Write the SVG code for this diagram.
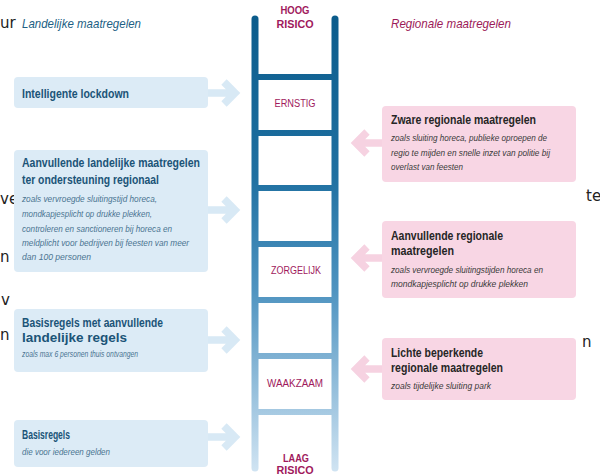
<svg xmlns="http://www.w3.org/2000/svg" width="600" height="475" viewBox="0 0 600 475">
<defs>
<linearGradient id="lad" gradientUnits="userSpaceOnUse" x1="0" y1="18" x2="0" y2="470">
<stop offset="0" stop-color="#0b5c8c"/>
<stop offset="0.35" stop-color="#1f70a1"/>
<stop offset="0.6" stop-color="#4e93c0"/>
<stop offset="1" stop-color="#cfe3f2"/>
</linearGradient>
<style>
.bl{fill:#dcebf6}
.pk{fill:#f8d6e4}
.ab{fill:none;stroke:#d8e9f5;stroke-width:7.5;stroke-linejoin:miter}
.ap{fill:none;stroke:#f6d2e1;stroke-width:7.5;stroke-linejoin:miter}
.hd{font-family:"Liberation Sans",Arial,sans-serif;font-style:italic;font-size:13px}
.tb{font-family:"Liberation Sans",Arial,sans-serif;font-weight:bold;font-size:12.5px;fill:#1b5478}
.tp{font-family:"Liberation Sans",Arial,sans-serif;font-weight:bold;font-size:12.5px;fill:#262626}
.sb{font-family:"Liberation Sans",Arial,sans-serif;font-style:italic;font-size:9px;fill:#4a7491}
.sp{font-family:"Liberation Sans",Arial,sans-serif;font-style:italic;font-size:9px;fill:#3a3a3a}
.lv{font-family:"Liberation Sans",Arial,sans-serif;font-size:10px;fill:#a0195c;text-anchor:middle}
.lvb{font-family:"Liberation Sans",Arial,sans-serif;font-size:10px;font-weight:bold;fill:#a0195c;text-anchor:middle}
.st{font-family:"DejaVu Sans",sans-serif;font-size:15px;fill:#222}
.rail{stroke:url(#lad);stroke-width:7;stroke-linecap:round;fill:none}
.rung{fill:url(#lad)}
</style>
</defs>
<rect width="600" height="475" fill="#ffffff"/>

<g id="stray">
<text class="st" x="0" y="28">ur</text>
<text class="st" x="0" y="204">ve</text>
<text class="st" x="0" y="262">n</text>
<text class="st" x="1" y="305">v</text>
<text class="st" x="0" y="340">n</text>
<text class="st" x="586" y="201">te</text>
<text class="st" x="582" y="347">n</text>
</g>

<g id="headers">
<text class="hd" x="22" y="28" fill="#1d5f84" textLength="119" lengthAdjust="spacingAndGlyphs">Landelijke maatregelen</text>
<text class="hd" x="391" y="28" fill="#9c1a58" textLength="120" lengthAdjust="spacingAndGlyphs">Regionale maatregelen</text>
</g>

<g id="ladder">
<line class="rail" x1="255" y1="19" x2="255" y2="468"/>
<line class="rail" x1="335" y1="19" x2="335" y2="468"/>
<rect class="rung" x="255" y="74" width="80" height="6"/>
<rect class="rung" x="255" y="130" width="80" height="6"/>
<rect class="rung" x="255" y="185" width="80" height="6"/>
<rect class="rung" x="255" y="241" width="80" height="6"/>
<rect class="rung" x="255" y="297" width="80" height="6"/>
<rect class="rung" x="255" y="353" width="80" height="6"/>
<rect class="rung" x="255" y="409" width="80" height="6"/>
<text class="lvb" x="295" y="14" textLength="29" lengthAdjust="spacingAndGlyphs">HOOG</text>
<text class="lvb" x="295" y="28" textLength="37" lengthAdjust="spacingAndGlyphs">RISICO</text>
<text class="lv" x="295" y="107" textLength="41" lengthAdjust="spacingAndGlyphs">ERNSTIG</text>
<text class="lv" x="296" y="274" textLength="50" lengthAdjust="spacingAndGlyphs">ZORGELIJK</text>
<text class="lv" x="295" y="387" textLength="56" lengthAdjust="spacingAndGlyphs">WAAKZAAM</text>
<text class="lvb" x="296" y="462" textLength="26" lengthAdjust="spacingAndGlyphs">LAAG</text>
<text class="lvb" x="295" y="474" textLength="37" lengthAdjust="spacingAndGlyphs">RISICO</text>
</g>

<g id="connectors">
<path class="ab" d="M208 93H235M224 82L235 93L224 104"/>
<path class="ab" d="M208 210H235M224 199L235 210L224 221"/>
<path class="ab" d="M208 340H235M224 329L235 340L224 351"/>
<path class="ab" d="M208 437H235M224 426L235 437L224 448"/>
<path class="ap" d="M382 143H356M367 132L356 143L367 154"/>
<path class="ap" d="M382 258H356M367 247L356 258L367 269"/>
<path class="ap" d="M382 369H356M367 358L356 369L367 380"/>
</g>

<g id="l1">
<rect class="bl" x="14" y="77" width="194" height="31" rx="4"/>
<text class="tb" x="22" y="98" textLength="107" lengthAdjust="spacingAndGlyphs">Intelligente lockdown</text>
</g>

<g id="l2">
<rect class="bl" x="14" y="150" width="194" height="122" rx="4"/>
<text class="tb" x="22" y="167" textLength="178" lengthAdjust="spacingAndGlyphs">Aanvullende landelijke maatregelen</text>
<text class="tb" x="22" y="184" textLength="137" lengthAdjust="spacingAndGlyphs">ter ondersteuning regionaal</text>
<text class="sb" x="22" y="202" textLength="135" lengthAdjust="spacingAndGlyphs">zoals vervroegde sluitingstijd horeca,</text>
<text class="sb" x="22" y="217" textLength="130" lengthAdjust="spacingAndGlyphs">mondkapjesplicht op drukke plekken,</text>
<text class="sb" x="22" y="232" textLength="150" lengthAdjust="spacingAndGlyphs">controleren en sanctioneren bij horeca en</text>
<text class="sb" x="22" y="246" textLength="167" lengthAdjust="spacingAndGlyphs">meldplicht voor bedrijven bij feesten van meer</text>
<text class="sb" x="22" y="260" textLength="69" lengthAdjust="spacingAndGlyphs">dan 100 personen</text>
</g>

<g id="l3">
<rect class="bl" x="14" y="309" width="194" height="63" rx="4"/>
<text class="tb" x="22" y="327" textLength="141" lengthAdjust="spacingAndGlyphs">Basisregels met aanvullende</text>
<text class="tb" x="22" y="342" textLength="105" lengthAdjust="spacingAndGlyphs">landelijke regels</text>
<text class="sb" x="22" y="357" textLength="116" lengthAdjust="spacingAndGlyphs">zoals max 6 personen thuis ontvangen</text>
</g>

<g id="l4">
<rect class="bl" x="14" y="420" width="194" height="47" rx="4"/>
<text class="tb" x="22" y="439" textLength="48" lengthAdjust="spacingAndGlyphs">Basisregels</text>
<text class="sb" x="22" y="455" textLength="88" lengthAdjust="spacingAndGlyphs">die voor iedereen gelden</text>
</g>

<g id="r1">
<rect class="pk" x="382" y="106" width="194" height="76" rx="4"/>
<text class="tp" x="391" y="124" textLength="145" lengthAdjust="spacingAndGlyphs">Zware regionale maatregelen</text>
<text class="sp" x="391" y="141" textLength="156" lengthAdjust="spacingAndGlyphs">zoals sluiting horeca, publieke oproepen de</text>
<text class="sp" x="391" y="156" textLength="159" lengthAdjust="spacingAndGlyphs">regio te mijden en snelle inzet van politie bij</text>
<text class="sp" x="391" y="170" textLength="72" lengthAdjust="spacingAndGlyphs">overlast van feesten</text>
</g>

<g id="r2">
<rect class="pk" x="382" y="221" width="194" height="77" rx="4"/>
<text class="tp" x="391" y="240" textLength="112" lengthAdjust="spacingAndGlyphs">Aanvullende regionale</text>
<text class="tp" x="391" y="255" textLength="63" lengthAdjust="spacingAndGlyphs">maatregelen</text>
<text class="sp" x="391" y="273" textLength="152" lengthAdjust="spacingAndGlyphs">zoals vervroegde sluitingstijden horeca en</text>
<text class="sp" x="391" y="287" textLength="137" lengthAdjust="spacingAndGlyphs">mondkapjesplicht  op drukke plekken</text>
</g>

<g id="r3">
<rect class="pk" x="382" y="338" width="194" height="62" rx="4"/>
<text class="tp" x="391" y="357" textLength="92" lengthAdjust="spacingAndGlyphs">Lichte beperkende</text>
<text class="tp" x="391" y="372" textLength="112" lengthAdjust="spacingAndGlyphs">regionale maatregelen</text>
<text class="sp" x="391" y="389" textLength="100" lengthAdjust="spacingAndGlyphs">zoals tijdelijke sluiting park</text>
</g>
</svg>
